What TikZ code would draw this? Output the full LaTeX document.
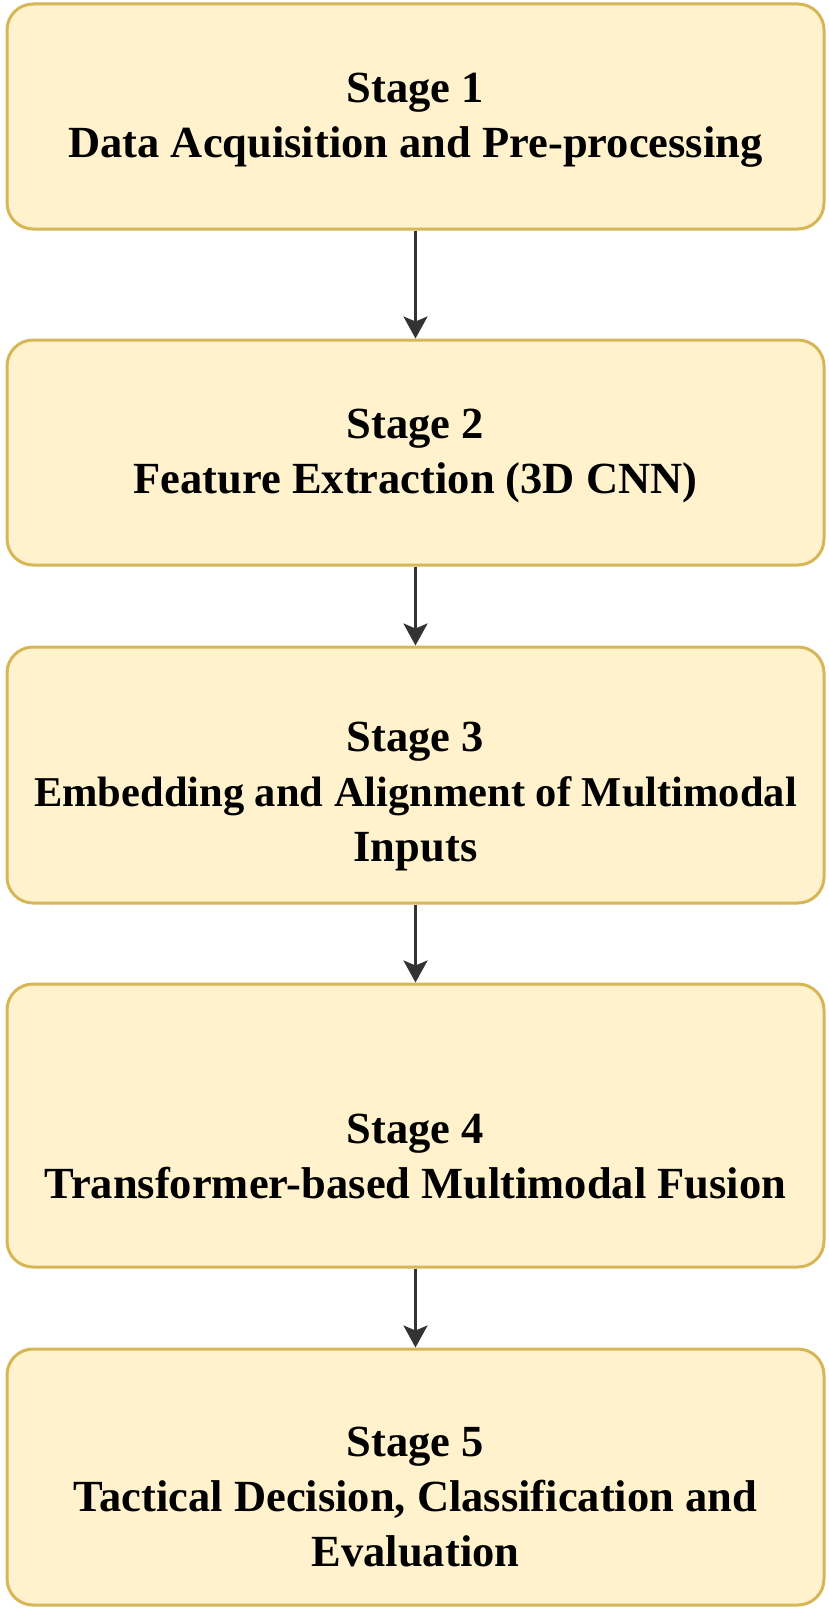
\documentclass[tikz,border=0pt]{standalone}
\usepackage{fontspec}
\setmainfont{Liberation Serif}
\usetikzlibrary{arrows.meta}
\definecolor{boxfill}{HTML}{FFF2CC}
\definecolor{boxdraw}{HTML}{D6B656}
\definecolor{arrowcol}{HTML}{333333}
\begin{document}
\begin{tikzpicture}[x=1pt,y=-1pt,
  stagebox/.style={draw=boxdraw, fill=boxfill, line width=3pt, rounded corners=26pt,
    minimum width=817pt, inner sep=0pt},
  stagetext/.style={align=center, font=\fontsize{44.5}{55}\selectfont\bfseries, inner sep=0pt},
  flow/.style={draw=arrowcol, line width=3pt, -{Stealth[length=22pt,width=24pt,inset=5pt]}}]
\useasboundingbox (0,0) rectangle (829,1611);
\node[stagebox, minimum height=225pt] (b1) at (415.5,116.5) {};
\node[stagebox, minimum height=225pt] (b2) at (415.5,452.5) {};
\node[stagebox, minimum height=256pt] (b3) at (415.5,775) {};
\node[stagebox, minimum height=283pt] (b4) at (415.5,1125.5) {};
\node[stagebox, minimum height=256pt] (b5) at (415.5,1477) {};
\node[stagetext] (t1) at (415.5,118.5) {\strut Stage 1\\\strut Data Acquisition and Pre-processing};
\node[stagetext] (t2) at (415.5,454.5) {\strut Stage 2\\\strut Feature Extraction (3D CNN)};
\node[stagetext] (t3) at (415.5,795) {\strut Stage 3\\{\fontsize{42.5}{55}\selectfont\strut Embedding and Alignment of Multimodal}\\\strut Inputs};
\node[stagetext] (t4) at (415.5,1159.5) {\strut Stage 4\\\strut Transformer-based Multimodal Fusion};
\node[stagetext] (t5) at (415.5,1500) {\strut Stage 5\\\strut Tactical Decision, Classification and\\\strut Evaluation};
\draw[flow] (b1.south) -- (b2.north);
\draw[flow] (b2.south) -- (b3.north);
\draw[flow] (b3.south) -- (b4.north);
\draw[flow] (b4.south) -- (b5.north);
\end{tikzpicture}
\end{document}
